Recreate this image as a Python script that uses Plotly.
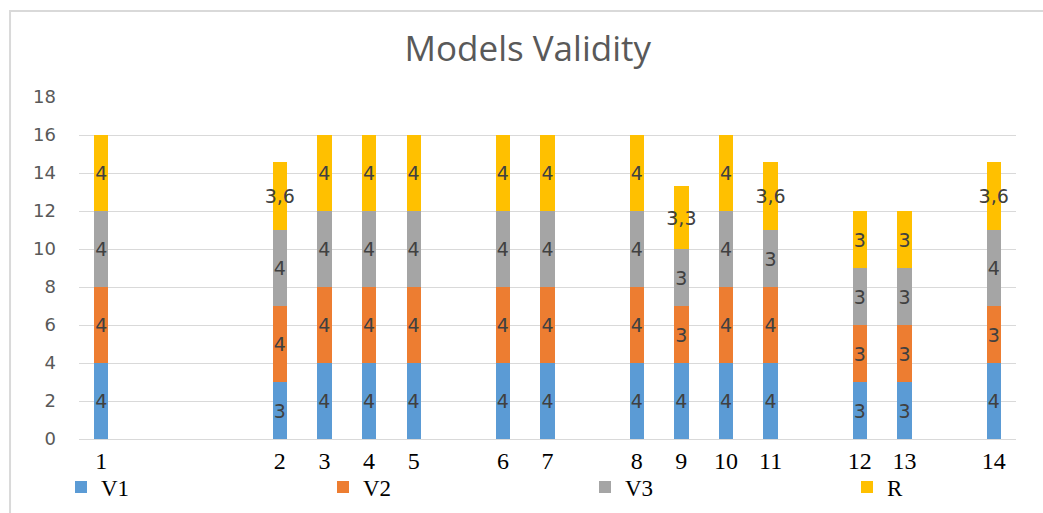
import plotly.graph_objects as go

# Data
models = ["1", "2", "3", "4", "5", "6", "7", "8", "9", "10", "11", "12", "13", "14"]
slots = [0, 4, 5, 6, 7, 9, 10, 12, 13, 14, 15, 17, 18, 20]
v1 = [4, 3, 4, 4, 4, 4, 4, 4, 4, 4, 4, 3, 3, 4]
v2 = [4, 4, 4, 4, 4, 4, 4, 4, 3, 4, 4, 3, 3, 3]
v3 = [4, 4, 4, 4, 4, 4, 4, 4, 3, 4, 3, 3, 3, 4]
r = [4, 3.6, 4, 4, 4, 4, 4, 4, 3.3, 4, 3.6, 3, 3, 3.6]
y_ticks = [0, 2, 4, 6, 8, 10, 12, 14, 16, 18]

series = [("V1", v1, "#5B9BD5"), ("V2", v2, "#ED7D31"), ("V3", v3, "#A5A5A5"), ("R", r, "#FFC000")]


def fmt(v):
    s = ("%g" % v)
    return s.replace(".", ",")


fig = go.Figure()
for i, (name, vals, color) in enumerate(series):
    fig.add_trace(go.Bar(
        x=slots, y=vals, name=name,
        marker=dict(color=color, line=dict(width=0)),
        width=0.32,
        text=[fmt(v) for v in vals],
        textposition="inside",
        insidetextanchor="middle",
        textangle=0,
        constraintext="none",
        textfont=dict(family="DejaVu Sans", size=19, color="#404040"),
        hoverinfo="skip",
        legendwidth=217 if i < len(series) - 1 else 30,
    ))

fig.update_layout(
    barmode="stack",
    width=1043, height=513,
    margin=dict(l=79, r=27, t=97, b=74, autoexpand=False),
    paper_bgcolor="white", plot_bgcolor="white",
    title=dict(text="Models Validity", x=0.506, xanchor="center", y=0.904, yanchor="middle",
               xref="container", yref="container",
               font=dict(family="Open Sans", size=35, color="#595959")),
    showlegend=True,
    legend=dict(orientation="h", xref="container", yref="container",
                x=61 / 1043, xanchor="left", y=1 - 487 / 513, yanchor="middle",
                traceorder="normal",
                font=dict(family="Liberation Serif", size=23, color="#000000"),
                bgcolor="rgba(0,0,0,0)"),
    xaxis=dict(range=[-0.5, 20.5], tickmode="array", tickvals=slots, ticktext=models,
               showgrid=False, zeroline=False, showline=True, linecolor="#d9d9d9", linewidth=1,
               ticks="", automargin=False,
               tickfont=dict(family="Liberation Serif", size=24, color="#000000")),
    yaxis=dict(range=[0, 18], tickmode="array", tickvals=y_ticks,
               showgrid=True, gridcolor="#d9d9d9", gridwidth=1, zeroline=False, showline=False,
               ticks="", ticklabelstandoff=22, automargin=False,
               tickfont=dict(family="DejaVu Sans", size=18, color="#595959")),
    shapes=[dict(type="rect", xref="paper", yref="paper",
                 x0=-0.0736, x1=1.2, y0=-0.5, y1=1.2515,
                 line=dict(color="#d9d9d9", width=2), fillcolor="rgba(0,0,0,0)", layer="below")],
)

fig.write_html("out.html", config={"displayModeBar": False},
               post_script="document.body.style.margin='0';document.body.style.overflow='hidden';")
